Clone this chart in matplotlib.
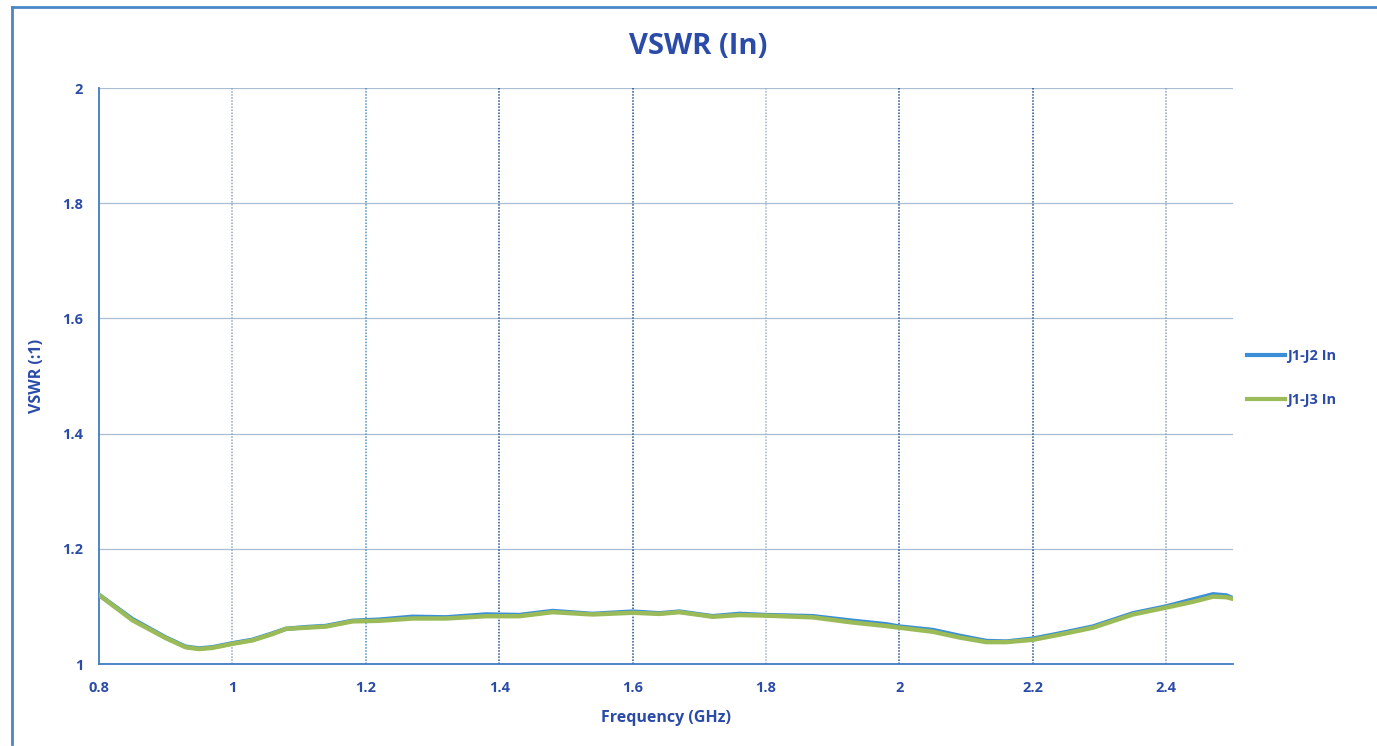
import matplotlib
matplotlib.use("Agg")
import matplotlib.pyplot as plt
from matplotlib.lines import Line2D

plt.rcParams['font.family'] = ['Open Sans', 'DejaVu Sans']

freq = [0.80, 0.85, 0.90, 0.93, 0.95, 0.97, 1.00, 1.03, 1.06, 1.08, 1.11, 1.14, 1.18,
        1.22, 1.27, 1.32, 1.38, 1.43, 1.48, 1.54, 1.60, 1.64, 1.67, 1.72, 1.76, 1.80,
        1.87, 1.93, 1.98, 2.00, 2.05, 2.09, 2.13, 2.16, 2.20, 2.24, 2.29, 2.35, 2.40,
        2.44, 2.47, 2.49, 2.50]
j1_j2 = [1.120, 1.078, 1.046, 1.030, 1.027, 1.029, 1.036, 1.042, 1.053, 1.061, 1.064,
         1.066, 1.075, 1.077, 1.082, 1.081, 1.086, 1.085, 1.092, 1.087, 1.091, 1.088,
         1.091, 1.083, 1.087, 1.085, 1.083, 1.075, 1.069, 1.065, 1.059, 1.049, 1.040,
         1.039, 1.044, 1.053, 1.065, 1.088, 1.100, 1.112, 1.121, 1.119, 1.114]
j1_j3 = [1.120, 1.076, 1.045, 1.029, 1.026, 1.028, 1.035, 1.041, 1.052, 1.061, 1.063,
         1.065, 1.074, 1.075, 1.079, 1.079, 1.083, 1.083, 1.090, 1.086, 1.089, 1.087,
         1.090, 1.082, 1.085, 1.084, 1.081, 1.072, 1.066, 1.063, 1.056, 1.046, 1.038,
         1.038, 1.042, 1.051, 1.063, 1.086, 1.098, 1.108, 1.117, 1.116, 1.113]

xticks = [0.8, 1.0, 1.2, 1.4, 1.6, 1.8, 2.0, 2.2, 2.4]
xtick_labels = ['0.8', '1', '1.2', '1.4', '1.6', '1.8', '2', '2.2', '2.4']
yticks = [1.0, 1.2, 1.4, 1.6, 1.8, 2.0]
ytick_labels = ['1', '1.2', '1.4', '1.6', '1.8', '2']

TXT = '#2A4BA8'
BLUE = '#3A8FD6'
GREEN = '#9BBB59'

fig = plt.figure(figsize=(13.77, 7.46), dpi=100)
ax = fig.add_axes([99/1377, 82/746, (1233-99)/1377, (664-88)/746])

ax.set_xlim(0.8, 2.5)
ax.set_ylim(1.0, 2.0)

# grid
for y in yticks[1:]:
    ax.axhline(y, color='#A9BED3', lw=0.9, zorder=1)
vcols = {1.0: '#8FA6C0', 1.2: '#4E8FC4', 1.4: '#24508F', 1.6: '#24508F',
         1.8: '#9FB2C8', 2.0: '#24508F', 2.2: '#24508F', 2.4: '#8FA0B5'}
for x in xticks[1:]:
    ax.axvline(x, color=vcols[x], lw=1.1, ls=(0, (1, 1)), zorder=1)

ax.plot(freq, j1_j2, color=BLUE, lw=3.2, zorder=3, solid_capstyle='round',
        solid_joinstyle='round')
ax.plot(freq, j1_j3, color=GREEN, lw=3.2, zorder=4, solid_capstyle='round',
        solid_joinstyle='round')

for s in ['top', 'right']:
    ax.spines[s].set_visible(False)
for s in ['left', 'bottom']:
    ax.spines[s].set_color('#3E7CC4')
    ax.spines[s].set_linewidth(1.3)

ax.set_xticks(xticks)
ax.set_xticklabels(xtick_labels)
ax.set_yticks(yticks)
ax.set_yticklabels(ytick_labels)
ax.tick_params(length=0, colors=TXT, labelsize=10.5)
ax.tick_params(axis='x', pad=12)
ax.tick_params(axis='y', pad=11.5)
for lab in ax.get_xticklabels() + ax.get_yticklabels():
    lab.set_fontweight('bold')

ax.set_xlabel('Frequency (GHz)', color=TXT, fontsize=11.5, fontweight='bold', labelpad=11)
ax.set_ylabel('VSWR (:1)', color=TXT, fontsize=11.5, fontweight='bold')
ax.yaxis.set_label_coords((45 - 99) / 1134, 0.5)
fig.text(698/1377, 1 - 46/746, 'VSWR (In)', color=TXT, fontsize=21, fontweight='bold',
         ha='center', va='center')

handles = [Line2D([], [], color=BLUE, lw=3), Line2D([], [], color=GREEN, lw=3)]
leg = fig.legend(handles, ['J1-J2 In', 'J1-J3 In'], loc='center left',
                 bbox_to_anchor=(1234/1377, 1 - 378/746), frameon=False,
                 handlelength=2.6, handletextpad=0.15, labelspacing=2.1,
                 prop={'size': 10.5, 'weight': 'bold'})
for t in leg.get_texts():
    t.set_color(TXT)

# outer frame
fig.add_artist(Line2D([12/1377, 12/1377], [2/746, 1 - 7/746], transform=fig.transFigure,
                      color='#4A86C8', lw=2))
fig.add_artist(Line2D([12/1377, 1.0], [1 - 7/746, 1 - 7/746], transform=fig.transFigure,
                      color='#4A86C8', lw=2))

fig.savefig('out.png', dpi=100)
